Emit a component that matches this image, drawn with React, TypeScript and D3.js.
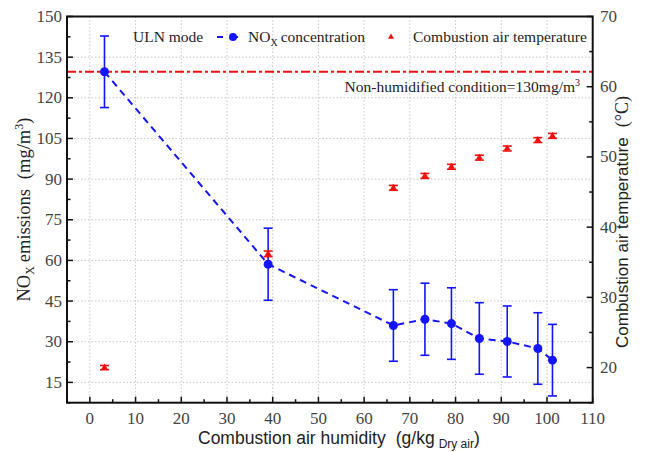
import React from "react";
import * as d3 from "d3";

const humidity = [3.2, 39, 66.4, 73.3, 79.1, 85.2, 91.3, 98.0, 101.2];
const noxValues = [129.6, 58.6, 36.0, 38.3, 36.7, 31.2, 30.1, 27.5, 23.2];
const noxErrors = [13.2, 13.3, 13.2, 13.3, 13.2, 13.2, 13.1, 13.2, 13.2];
const tempValues = [20.0, 36.2, 45.6, 47.3, 48.6, 49.9, 51.2, 52.4, 53.0];
const tempErrors = [0.3, 0.4, 0.35, 0.35, 0.35, 0.35, 0.35, 0.35, 0.35];
const baselineNox = 129.6;
const xTicks = [0, 10, 20, 30, 40, 50, 60, 70, 80, 90, 100, 110];
const yLeftTicks = [15, 30, 45, 60, 75, 90, 105, 120, 135, 150];
const yRightTicks = [20, 30, 40, 50, 60, 70];

const W = 649;
const H = 452;
const M = { left: 67, right: 592.7, top: 16.5, bottom: 402.7 };
const serif = "'Liberation Serif', 'Times New Roman', serif";
const sans = "'Liberation Sans', Arial, sans-serif";
const BLUE = "#1414ff";
const RED = "#f01010";

export default function App() {
  const x = d3.scaleLinear().domain([-5, 110]).range([M.left, M.right]);
  const yL = d3.scaleLinear().domain([7.5, 150]).range([M.bottom, M.top]);
  const yR = d3.scaleLinear().domain([15, 70]).range([M.bottom, M.top]);

  const xMinor = d3.range(-5, 111, 5).filter((v) => !xTicks.includes(v));
  const yLMinor = d3.range(7.5, 150, 7.5).filter((v) => !yLeftTicks.includes(v));
  const yRMinor = d3.range(15, 70, 5).filter((v) => !yRightTicks.includes(v));

  const line = d3
    .line<number>()
    .x((_, i) => x(humidity[i]))
    .y((d) => yL(d));

  const tri = d3.symbol().type(d3.symbolTriangle).size(22)();

  return (
    <svg width={W} height={H} style={{ position: "absolute", left: 0, top: 0, background: "#fff" }}>
      {/* grid */}
      <g stroke="#c8c8c8" strokeWidth={1} strokeDasharray="1.5,2">
        {xTicks.filter((v) => v < 110).map((v) => (
          <line key={"gx" + v} x1={x(v)} x2={x(v)} y1={M.top} y2={M.bottom} />
        ))}
        {yLeftTicks.filter((v) => v < 150).map((v) => (
          <line key={"gy" + v} x1={M.left} x2={M.right} y1={yL(v)} y2={yL(v)} />
        ))}
      </g>

      {/* baseline dash-dot */}
      <line
        x1={M.left}
        x2={M.right}
        y1={yL(baselineNox)}
        y2={yL(baselineNox)}
        stroke={RED}
        strokeWidth={2}
        strokeDasharray="9,3,3,3"
      />
      <text x={580} y={92} fontFamily={serif} fontSize={15.5} textAnchor="end" fill="#222">
        Non-humidified condition=130mg/m<tspan dy={-6} fontSize={10}>3</tspan>
      </text>

      {/* NOx line */}
      <path d={line(noxValues) || ""} fill="none" stroke={BLUE} strokeWidth={2} strokeDasharray="7,5" />

      {/* NOx error bars */}
      <g stroke={BLUE} strokeWidth={1.6}>
        {humidity.map((h, i) => {
          const cx = x(h);
          const t = yL(noxValues[i] + noxErrors[i]);
          const b = yL(noxValues[i] - noxErrors[i]);
          return (
            <g key={"ne" + i}>
              <line x1={cx} x2={cx} y1={t} y2={b} />
              <line x1={cx - 4.5} x2={cx + 4.5} y1={t} y2={t} />
              <line x1={cx - 4.5} x2={cx + 4.5} y1={b} y2={b} />
            </g>
          );
        })}
      </g>
      {humidity.map((h, i) => (
        <circle key={"nc" + i} cx={x(h)} cy={yL(noxValues[i])} r={4.5} fill={BLUE} />
      ))}

      {/* temperature */}
      <g stroke={RED} strokeWidth={1.6}>
        {humidity.map((h, i) => {
          const cx = x(h);
          const t = yR(tempValues[i] + tempErrors[i]);
          const b = yR(tempValues[i] - tempErrors[i]);
          return (
            <g key={"te" + i}>
              <line x1={cx} x2={cx} y1={t} y2={b} />
              <line x1={cx - 4.5} x2={cx + 4.5} y1={t} y2={t} />
              <line x1={cx - 4.5} x2={cx + 4.5} y1={b} y2={b} />
            </g>
          );
        })}
      </g>
      {humidity.map((h, i) => (
        <path key={"tp" + i} d={tri || ""} transform={`translate(${x(h)},${yR(tempValues[i])})`} fill={RED} />
      ))}

      {/* frame */}
      <rect x={M.left} y={M.top} width={M.right - M.left} height={M.bottom - M.top} fill="none" stroke="#111" strokeWidth={2} />

      {/* ticks */}
      <g stroke="#111" strokeWidth={1.5}>
        {xTicks.map((v) => (
          <line key={"xt" + v} x1={x(v)} x2={x(v)} y1={M.bottom} y2={M.bottom - 6} />
        ))}
        {xMinor.map((v) => (
          <line key={"xm" + v} x1={x(v)} x2={x(v)} y1={M.bottom} y2={M.bottom - 3.5} />
        ))}
        {yLeftTicks.map((v) => (
          <line key={"yt" + v} x1={M.left} x2={M.left + 6} y1={yL(v)} y2={yL(v)} />
        ))}
        {yLMinor.map((v) => (
          <line key={"ym" + v} x1={M.left} x2={M.left + 3.5} y1={yL(v)} y2={yL(v)} />
        ))}
        {yRightTicks.map((v) => (
          <line key={"rt" + v} x1={M.right} x2={M.right - 6} y1={yR(v)} y2={yR(v)} />
        ))}
        {yRMinor.map((v) => (
          <line key={"rm" + v} x1={M.right} x2={M.right - 3.5} y1={yR(v)} y2={yR(v)} />
        ))}
      </g>

      {/* tick labels */}
      <g fontFamily={serif} fontSize={17} fill="#444">
        {xTicks.map((v) => (
          <text key={"xl" + v} x={x(v)} y={424} textAnchor="middle">
            {v}
          </text>
        ))}
        {yLeftTicks.map((v) => (
          <text key={"yl" + v} x={62} y={yL(v) + 5.5} textAnchor="end">
            {v}
          </text>
        ))}
        {yRightTicks.map((v) => (
          <text key={"rl" + v} x={600} y={yR(v) + 5.5} textAnchor="start">
            {v}
          </text>
        ))}
      </g>

      {/* axis titles */}
      <text x={198} y={444} textAnchor="start" fontFamily={sans} fontSize={17.5} fill="#222">
        Combustion air humidity
        <tspan dx={10}>(g/kg</tspan>
        <tspan dy={4} dx={4} fontSize={12}>Dry air</tspan>
        <tspan dy={-4}>)</tspan>
      </text>
      <text
        transform={`translate(30,${(M.top + M.bottom) / 2}) rotate(-90)`}
        textAnchor="middle"
        fontFamily={serif}
        fontSize={18.5}
        fill="#222"
      >
        NO<tspan dy={4} fontSize={12}>X</tspan>
        <tspan dy={-4} dx={4}>emissions</tspan>
        <tspan dx={10}>(mg/m</tspan>
        <tspan dy={-7} fontSize={12}>3</tspan>
        <tspan dy={7}>)</tspan>
      </text>
      <text
        transform={`translate(628,348) rotate(-90)`}
        textAnchor="start"
        fontFamily={sans}
        fontSize={17}
        fill="#222"
      >
        Combustion air temperature
        <tspan dx={10} fontFamily={serif} fontSize={18}>(°C)</tspan>
      </text>

      {/* legend */}
      <g fontFamily={serif} fontSize={15.5} fill="#222">
        <text x={133} y={42}>ULN mode</text>
        <line x1={217} x2={247} y1={37} y2={37} stroke={BLUE} strokeWidth={2} strokeDasharray="6,9" />
        <circle cx={233} cy={37} r={4} fill={BLUE} />
        <text x={248} y={42}>
          NO<tspan dy={4} fontSize={10}>X</tspan>
          <tspan dy={-4} dx={3}>concentration</tspan>
        </text>
        <path d={d3.symbol().type(d3.symbolTriangle).size(16)() || ""} transform="translate(391,37)" fill={RED} />
        <text x={413} y={42}>Combustion air temperature</text>
      </g>
    </svg>
  );
}
